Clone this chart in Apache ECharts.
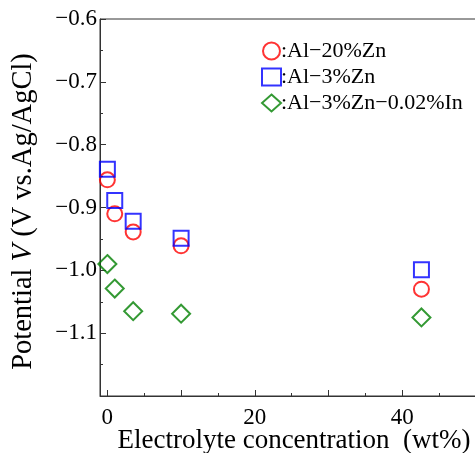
<!DOCTYPE html>
<html>
<head>
<meta charset="utf-8">
<script src="https://cdn.jsdelivr.net/npm/echarts@6/dist/echarts.min.js"></script>
<style>html,body{margin:0;padding:0;background:#fff}#c{width:475px;height:453px}</style>
</head>
<body>
<div id="c"></div>
<script>
const concentrations = [0, 1, 3.5, 10, 42.6];
const al20Zn = [-0.856, -0.910, -0.939, -0.961, -1.030];
const al3Zn = [-0.839, -0.889, -0.922, -0.949, -0.999];
const al3ZnIn = [-0.990, -1.029, -1.065, -1.069, -1.075];
const seriesNames = [':Al\u221220%Zn', ':Al\u22123%Zn', ':Al\u22123%Zn\u22120.02%In'];
const xMajorTicks = [0, 10, 20, 30, 40, 50];
const xMinorTicks = [5, 15, 25, 35, 45];
const xLabels = [0, 20, 40];

const FONT = 'Liberation Serif';
const pairs = ys => concentrations.map((x, i) => [x, ys[i]]);
const minus = s => String(s).replace('-', '\u2212');

const chart = echarts.init(document.getElementById('c'), null, {renderer: 'canvas'});
const mk = (name, data, symbol, color, size) => ({
  name, type: 'scatter', data: data, symbol, symbolSize: size,
  itemStyle: {color: 'rgba(0,0,0,0)', borderColor: color, borderWidth: 2},
  emphasis: {disabled: true}, z: 3
});
chart.setOption({
  animation: false,
  grid: {left: 100, top: 19, width: 376, height: 377, show: true, borderColor: '#333', borderWidth: 1,
    containLabel: false, outerBoundsMode: 'none'},
  legend: {
    orient: 'vertical', left: 256, top: 35, itemWidth: 19, itemHeight: 17, itemGap: 4,
    textStyle: {fontFamily: FONT, fontSize: 22, color: '#000', padding: [0, 0, 0, -5]},
    data: seriesNames
  },
  xAxis: [{
    type: 'value', min: -1, max: 50, position: 'bottom',
    name: 'Electrolyte concentration  (wt%)', nameLocation: 'middle', nameGap: 31, nameMoveOverlap: false,
    nameTextStyle: {fontFamily: FONT, fontSize: 27, color: '#000', padding: [0, 0, 0, 12]},
    axisLine: {show: true, onZero: false, lineStyle: {color: '#333', width: 1}},
    axisTick: {show: true, inside: true, length: 6, customValues: xMajorTicks, lineStyle: {color: '#333'}},
    axisLabel: {customValues: xLabels, fontFamily: FONT, fontSize: 23, color: '#000', margin: 10},
    splitLine: {show: false}
  }, {
    type: 'value', min: -1, max: 50, position: 'bottom',
    axisLine: {show: false},
    axisTick: {show: true, inside: true, length: 3, customValues: xMinorTicks, lineStyle: {color: '#333'}},
    axisLabel: {show: false},
    splitLine: {show: false}
  }],
  yAxis: {
    type: 'value', min: -1.2, max: -0.6, interval: 0.1,
    name: 'Potential {i|V} (V vs.Ag/AgCl)', nameLocation: 'middle', nameGap: 62, nameRotate: 90, nameMoveOverlap: false,
    nameTextStyle: {fontFamily: FONT, fontSize: 28.5, color: '#000', padding: [0, 0, 0, -8],
      rich: {i: {fontFamily: FONT, fontSize: 28.5, fontStyle: 'italic', color: '#000'}}},
    axisLine: {show: true, onZero: false, lineStyle: {color: '#333', width: 1}},
    axisTick: {show: true, inside: true, length: 6, lineStyle: {color: '#333'}},
    minorTick: {show: true, splitNumber: 2, length: 3, lineStyle: {color: '#333'}},
    axisLabel: {fontFamily: FONT, fontSize: 23, color: '#000', margin: 3,
      formatter: v => (Math.abs(v + 1.2) < 1e-6 ? '' : minus(v.toFixed(1)))},
    splitLine: {show: false}
  },
  series: [
    mk(seriesNames[0], pairs(al20Zn), 'circle', '#ff0000', 15),
    mk(seriesNames[1], pairs(al3Zn), 'rect', '#0000ff', 15),
    mk(seriesNames[2], pairs(al3ZnIn), 'diamond', '#008000', 18)
  ]
});
</script>
</body>
</html>
